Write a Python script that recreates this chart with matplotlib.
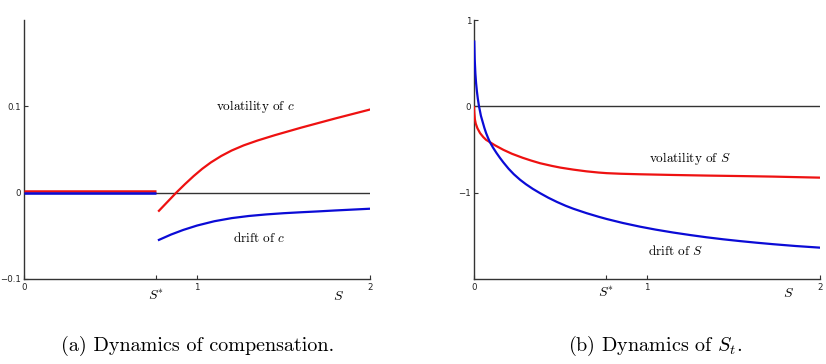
import matplotlib
matplotlib.use("Agg")
import matplotlib.pyplot as plt
import matplotlib.transforms as mtransforms

plt.rcParams['mathtext.fontset'] = 'cm'
plt.rcParams['font.family'] = ['DejaVu Sans']

# ---------------- data ----------------
S_STAR = 0.765

# Panel (a): dynamics of compensation
a_flat_s = [0.0, S_STAR]
a_flat_vol = [0.0015, 0.0015]
a_flat_drift = [-0.0008, -0.0008]

a_s_vol = [0.78, 0.83, 0.88, 0.93, 0.98, 1.03, 1.08, 1.14, 1.2, 1.27, 1.35, 1.45, 1.6,
           1.8, 2.0]
a_vol = [-0.021, -0.0105, 0.0, 0.0098, 0.0191, 0.0276, 0.0350, 0.0425, 0.0488, 0.0548,
         0.0604, 0.0666, 0.0752, 0.0860, 0.0963]

a_s_drift = [0.78, 0.85, 0.92, 1.0, 1.1, 1.2, 1.3, 1.4, 1.5, 1.6, 1.7, 1.8, 1.9, 2.0]
a_drift = [-0.0547, -0.0485, -0.0432, -0.0381, -0.0331, -0.0295, -0.0270, -0.0252,
           -0.0238, -0.0227, -0.0217, -0.0206, -0.0196, -0.0186]

# Panel (b): dynamics of S_t
b_s_vol = [0.0, 0.002, 0.005, 0.01, 0.02, 0.035, 0.054, 0.07, 0.092, 0.12, 0.17, 0.22,
           0.28, 0.33, 0.382, 0.45, 0.5, 0.574, 0.65, 0.72, 0.767, 0.85, 0.96, 1.15,
           1.345, 1.55, 1.73, 2.0]
b_vol = [-0.01, -0.08, -0.15, -0.2, -0.255, -0.31, -0.357, -0.388, -0.415, -0.45,
         -0.504, -0.55, -0.595, -0.628, -0.659, -0.69, -0.71, -0.733, -0.753, -0.767,
         -0.774, -0.781, -0.787, -0.795, -0.802, -0.808, -0.814, -0.826]

b_s_drift = [0.0015, 0.004, 0.008, 0.012, 0.017, 0.022, 0.029, 0.035, 0.04, 0.05, 0.06,
             0.07, 0.08, 0.092, 0.11, 0.13, 0.15, 0.17, 0.2, 0.23, 0.266, 0.3, 0.34,
             0.382, 0.43, 0.48, 0.53, 0.574, 0.65, 0.72, 0.767, 0.86, 0.96, 1.05, 1.152,
             1.25, 1.345, 1.44, 1.538, 1.63, 1.73, 1.86, 2.0]
b_drift = [0.75, 0.55, 0.38, 0.27, 0.17, 0.09, 0.0, -0.06, -0.11, -0.18, -0.25,
           -0.31, -0.36, -0.415, -0.478, -0.54, -0.597, -0.65, -0.723, -0.786, -0.850,
           -0.902, -0.956, -1.006, -1.059, -1.108, -1.152, -1.186, -1.237, -1.279,
           -1.305, -1.351, -1.394, -1.428, -1.462, -1.491, -1.517, -1.540, -1.561,
           -1.579, -1.597, -1.618, -1.637]

a_yticks = [-0.1, 0.0, 0.1]
a_yticklabels = ['\u22120.1', '0', '0.1']
b_yticks = [-1, 0, 1]
b_yticklabels = ['\u22121', '0', '1']
xticks = [0, S_STAR, 1, 2]
xticklabels = ['0', '', '1', '2']

RED = '#ee1111'
BLUE = '#0b0bd6'
AXC = '#333333'

fig = plt.figure(figsize=(8.26, 3.64), dpi=100)
W, H = 826.0, 364.0
axa = fig.add_axes([24 / W, 1 - 279 / H, 346 / W, 259 / H])
axb = fig.add_axes([474 / W, 1 - 279 / H, 346 / W, 259 / H])


def style(ax, ylim, yt, ytl):
    ax.set_xlim(0, 2)
    ax.set_ylim(*ylim)
    for sp in ('top', 'right'):
        ax.spines[sp].set_visible(False)
    for sp in ('left', 'bottom'):
        ax.spines[sp].set_color(AXC)
        ax.spines[sp].set_linewidth(1.0)
    ax.set_xticks(xticks)
    ax.set_xticklabels(xticklabels)
    ax.set_yticks(yt)
    ax.set_yticklabels(ytl)
    ax.tick_params(direction='in', length=3, width=0.8, color=AXC, labelsize=6.2,
                   labelcolor='#222222')
    ax.tick_params(axis='x', pad=3)
    ax.tick_params(axis='y', pad=2)
    ax.axhline(0, color=AXC, lw=1.0, zorder=1)
    tr = mtransforms.blended_transform_factory(ax.transData, ax.transAxes)
    return tr


# Panel (a)
tra = style(axa, (-0.1, 0.2), a_yticks, a_yticklabels)
axa.plot(a_flat_s, a_flat_vol, color=RED, lw=1.8, zorder=3, solid_capstyle='butt')
axa.plot(a_flat_s, a_flat_drift, color=BLUE, lw=1.8, zorder=3, solid_capstyle='butt')
axa.plot(a_s_vol, a_vol, color=RED, lw=1.6, zorder=3)
axa.plot(a_s_drift, a_drift, color=BLUE, lw=1.6, zorder=3)
axa.text(1.34, 0.1, r'volatility of $c$', family='cmr10', fontsize=9.5,
         ha='center', va='center')
axa.text(1.36, -0.052, r'drift of $c$', family='cmr10', fontsize=9.5,
         ha='center', va='center')
axa.text(S_STAR, -0.066, r'$S^{*}$', transform=tra, fontsize=10, ha='center', va='center')
axa.text(1.82, -0.066, r'$S$', transform=tra, fontsize=10, ha='center', va='center')

# Panel (b)
trb = style(axb, (-2, 1), b_yticks, b_yticklabels)
axb.plot(b_s_vol, b_vol, color=RED, lw=1.6, zorder=3)
axb.plot(b_s_drift, b_drift, color=BLUE, lw=1.6, zorder=3)
axb.text(1.25, -0.6, r'volatility of $S$', family='cmr10', fontsize=9.5,
         ha='center', va='center')
axb.text(1.165, -1.67, r'drift of $S$', family='cmr10', fontsize=9.5,
         ha='center', va='center')
axb.text(S_STAR, -0.054, r'$S^{*}$', transform=trb, fontsize=10, ha='center', va='center')
axb.text(1.82, -0.054, r'$S$', transform=trb, fontsize=10, ha='center', va='center')

# captions
fig.text(198 / W, 1 - 346 / H, '(a) Dynamics of compensation.', family='cmr10',
         fontsize=14.5, ha='center', va='center')
fig.text(655 / W, 1 - 346 / H, r'(b) Dynamics of $S_t$.', family='cmr10',
         fontsize=14.5, ha='center', va='center')

fig.savefig('out.png', dpi=100)
